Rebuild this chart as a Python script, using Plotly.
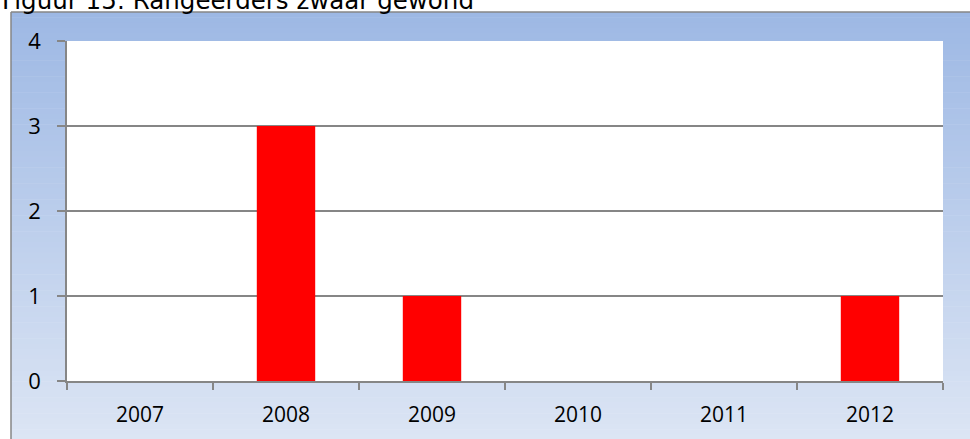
import plotly.graph_objects as go

years = ["2007", "2008", "2009", "2010", "2011", "2012"]
values = [0, 3, 1, 0, 0, 1]
title_text = "Figuur 15: Rangeerders zwaar gewond"

W, H = 970, 439
L, R, T, B = 67, 943, 41, 381  # plot area in pixels


def px_x(p):
    return (p - L) / (R - L)


def px_y(p):
    return (B - p) / (B - T)


fig = go.Figure()
fig.add_trace(go.Bar(x=years, y=values, marker=dict(color="#FF0000", line=dict(width=0)),
                     width=0.4, hoverinfo="skip"))

shapes = []
top_c = (157, 184, 228)
bot_c = (220, 229, 244)
y0p, y1p = 12, 440
n = 80
for i in range(n):
    a = y0p + (y1p - y0p) * i / n
    b = y0p + (y1p - y0p) * (i + 1) / n
    t = (i + 0.5) / n
    c = tuple(round(top_c[k] + (bot_c[k] - top_c[k]) * t) for k in range(3))
    shapes.append(dict(type="rect", xref="paper", yref="paper", layer="below",
                       x0=px_x(11), x1=px_x(975), y0=px_y(b + 0.5), y1=px_y(a),
                       fillcolor="rgb(%d,%d,%d)" % c, line=dict(width=0)))
shapes.append(dict(type="rect", xref="paper", yref="paper", layer="below",
                   x0=0, x1=1, y0=0, y1=1, fillcolor="white", line=dict(width=0)))
shapes.append(dict(type="line", xref="paper", yref="paper", layer="above",
                   x0=px_x(11), x1=px_x(11), y0=px_y(12), y1=px_y(445),
                   line=dict(color="#868686", width=1.5)))
shapes.append(dict(type="line", xref="paper", yref="paper", layer="above",
                   x0=px_x(11), x1=px_x(980), y0=px_y(12), y1=px_y(12),
                   line=dict(color="#868686", width=1.5)))

fig.update_layout(
    width=W, height=H,
    margin=dict(l=L, r=W - R, t=T, b=H - B, pad=0),
    paper_bgcolor="white",
    plot_bgcolor="white",
    showlegend=False,
    shapes=shapes,
    annotations=[dict(text=title_text, xref="paper", yref="paper",
                      x=px_x(0), y=px_y(17), xanchor="left", yanchor="bottom",
                      showarrow=False,
                      font=dict(family="DejaVu Sans", size=24.5, color="black"))],
    font=dict(family="Open Sans", size=20, color="black"),
)
fig.update_xaxes(type="category", showgrid=False, showline=True, linecolor="#868686",
                 linewidth=1.5, ticks="outside", tickson="boundaries", ticklen=7,
                 tickcolor="#868686", tickwidth=1.5, ticklabelstandoff=14,
                 tickfont=dict(family="Open Sans", size=21, color="black"))
fig.update_yaxes(range=[0, 4], dtick=1, showgrid=True, gridcolor="#868686", gridwidth=1.5,
                 zeroline=False, showline=True, linecolor="#868686", linewidth=1.5,
                 ticks="outside", ticklen=8, tickcolor="#868686", tickwidth=1.5,
                 ticklabelstandoff=12,
                 tickfont=dict(family="Open Sans", size=22, color="black"))

fig.write_html("out.html", config={"displayModeBar": False},
               post_script="document.body.style.margin='0';document.body.style.overflow='hidden';")
